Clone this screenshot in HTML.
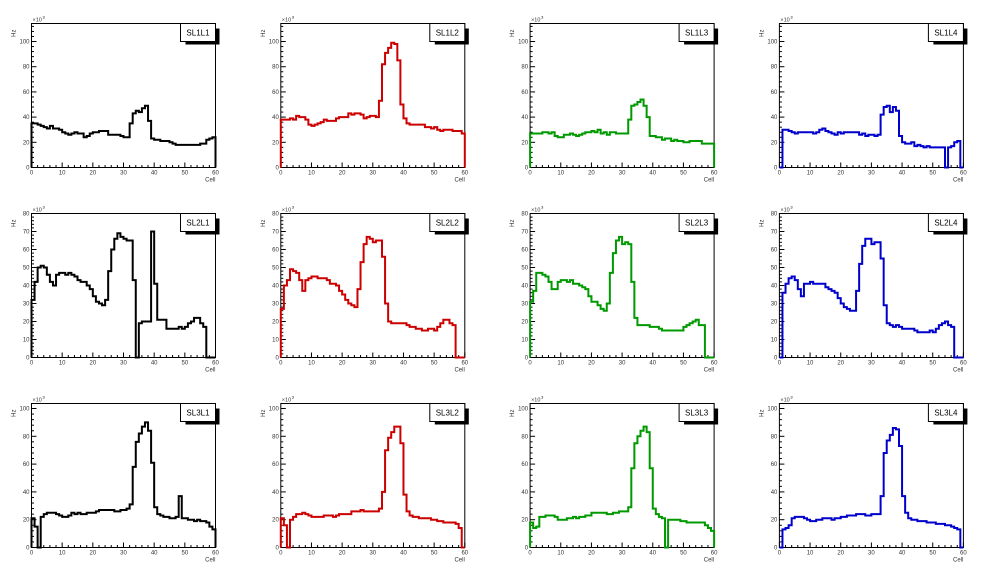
<!DOCTYPE html>
<html><head><meta charset="utf-8">
<style>
html,body{margin:0;padding:0;background:#fff;}
svg{display:block;font-family:"Liberation Sans",sans-serif;}
</style></head>
<body>
<svg id="s" width="996" height="572" xmlns="http://www.w3.org/2000/svg"></svg>
<script>
const D={
"SL1L1":[35,35,34,33,32,31,33,31,31,30,28,27,26,27,28,27,27,24,25,27,28,28,29,29,29,26,26,26,26,25,24,24,35,43,45,44,47,49,37,23,22,22,21,21,21,20,19,18,18,18,18,18,18,18,18,19,19,22,23,24],
"SL1L2":[38,38,38,39,38,41,40,40,38,34,33,34,35,36,38,37,37,37,39,40,40,40,43,42,43,43,42,39,40,41,41,40,53,82,91,95,99,98,85,50,39,35,34,34,34,34,34,32,32,31,32,30,29,30,30,30,29,29,29,27],
"SL1L3":[27,27,27,27,28,28,27,28,25,24,24,26,26,27,26,25,26,27,28,28,29,28,30,27,28,26,28,28,27,27,27,27,38,49,50,52,54,49,40,25,25,24,24,22,23,23,21,22,21,21,20,20,21,21,21,21,19,19,19,19],
"SL1L4":[0,30,30,29,28,27,28,28,28,28,28,27,28,30,31,29,28,27,26,28,27,28,28,28,28,28,26,27,25,26,26,25,26,42,48,49,44,48,45,25,20,19,19,20,17,18,17,16,17,16,16,16,16,16,0,16,17,20,21,0],
"SL2L1":[32,42,50,51,50,46,42,40,46,47,47,46,47,46,45,43,42,42,40,38,34,31,30,29,32,48,60,66,69,67,66,65,65,43,0,19,20,20,20,70,41,21,21,21,16,16,16,16,17,16,17,19,20,22,22,19,17,0,0,0],
"SL2L2":[27,40,43,49,48,47,43,37,43,44,45,45,44,44,44,43,41,41,40,37,35,32,30,29,28,38,53,63,67,66,64,65,65,56,30,20,19,19,19,19,19,18,17,17,16,16,15,15,16,16,15,17,19,21,21,19,18,0,0,0],
"SL2L3":[31,37,47,47,46,45,42,38,38,42,43,43,42,43,41,41,40,39,38,34,31,31,29,27,26,30,47,58,65,67,63,64,63,42,22,18,18,18,18,17,17,17,16,15,15,15,15,15,15,15,17,18,19,20,21,18,18,0,0,0],
"SL2L4":[0,36,41,44,45,43,38,34,41,41,42,41,41,41,41,39,38,37,36,33,30,28,27,26,26,37,52,62,66,66,63,64,64,55,29,19,18,17,18,17,16,16,16,16,15,14,14,14,14,15,14,16,18,19,20,18,17,0,0,0],
"SL3L1":[21,15,0,22,24,25,25,25,24,23,22,22,23,25,24,25,24,24,25,25,25,26,27,27,27,27,27,26,26,27,27,28,31,58,76,82,87,90,84,61,29,24,23,22,22,21,21,22,37,21,21,20,20,19,20,19,19,18,15,13],
"SL3L2":[21,16,0,20,22,24,24,25,24,23,22,22,22,22,23,23,23,22,23,24,24,24,24,26,26,26,27,26,26,26,26,26,28,40,70,79,83,87,87,75,38,26,23,22,22,21,21,21,21,20,20,19,19,18,18,18,18,17,14,0],
"SL3L3":[18,14,15,22,22,23,23,23,22,20,20,20,21,21,22,21,22,22,23,23,25,25,25,25,25,24,24,25,25,26,26,26,29,57,75,80,84,87,83,57,28,24,22,21,0,20,20,20,20,19,19,18,18,18,18,18,18,16,14,12],
"SL3L4":[0,13,14,16,21,22,22,22,21,20,19,19,20,20,21,21,21,20,21,21,22,22,23,23,23,24,24,24,23,23,24,24,24,37,68,77,81,86,85,73,37,25,21,20,20,19,19,19,18,18,18,17,17,17,16,16,15,14,13,0]
};
const cols=["#000000","#cc0000","#009900","#0000cc"];
const rowMax=[114.3,80,103.6], rowMaj=[20,10,20], rowMin=[4,2,4];
let h='';
const W=184,H=144;
for(let r=0;r<3;r++)for(let c=0;c<4;c++){
  const name="SL"+(r+1)+"L"+(c+1), d=D[name];
  const L=31.5+249.3*c, T=23.5+190*r, B=T+H, R=L+W, ym=rowMax[r];
  const X=v=>L+v*W/60, Y=v=>B-v*H/ym;
  h+=`<rect x="${L}" y="${T}" width="${W}" height="${H}" fill="none" stroke="#000" stroke-width="1"/>`;
  for(let v=0;v<=60;v+=2){const big=v%10==0;h+=`<line x1="${X(v)}" y1="${B}" x2="${X(v)}" y2="${B-(big?5:2.5)}" stroke="#000" stroke-width="1"/>`;
    if(big)h+=`<text x="${X(v)}" y="${B+7}" font-size="6" text-anchor="middle" fill="#333">${v}</text>`;}
  for(let v=0;v<=ym;v+=rowMin[r]){const big=Math.abs(v%rowMaj[r])<1e-6;h+=`<line x1="${L}" y1="${Y(v)}" x2="${L+(big?5:2.5)}" y2="${Y(v)}" stroke="#000" stroke-width="1"/>`;
    if(big)h+=`<text x="${L-2}" y="${Y(v)+2}" font-size="6" text-anchor="end" fill="#333">${v}</text>`;}
  h+=`<text x="${L+1}" y="${T-2}" font-size="5.5" fill="#333">×10</text><text x="${L+11}" y="${T-5}" font-size="4">3</text>`;
  h+=`<text x="${R}" y="${B+14}" font-size="6" text-anchor="end" fill="#333">Cell</text>`;
  h+=`<text transform="translate(${L-16},${T+6}) rotate(-90)" font-size="6" text-anchor="end" fill="#333">Hz</text>`;
  let p=`M${X(0)},${B}`;
  for(let i=0;i<60;i++){p+=`L${X(i)},${Y(d[i])}L${X(i+1)},${Y(d[i])}`;}
  p+=`L${X(60)},${B}`;
  h+=`<path d="${p}" fill="none" stroke="${cols[c]}" stroke-width="2" stroke-linejoin="miter"/>`;
  h+=`<rect x="${R-30}" y="${T+5}" width="34" height="16" fill="#000"/>`;
  h+=`<rect x="${R-35}" y="${T}" width="35" height="18" fill="#fff" stroke="#000" stroke-width="1"/>`;
  h+=`<text x="${R-17.5}" y="${T+12}" font-size="8" text-anchor="middle">${name}</text>`;
}
document.getElementById('s').innerHTML=h;
</script>
</body></html>
